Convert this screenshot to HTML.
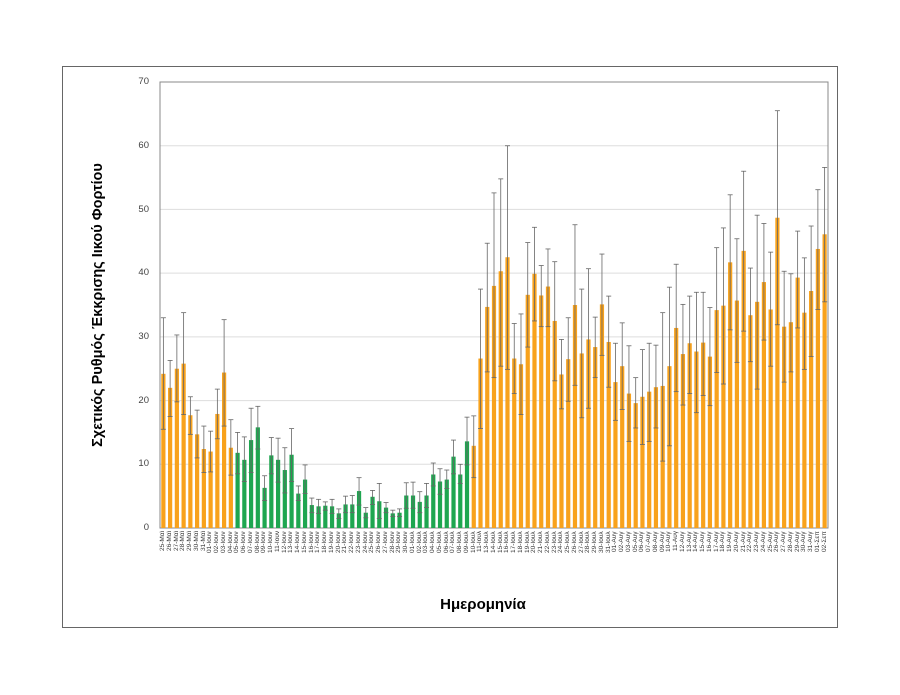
<!DOCTYPE html>
<html><head><meta charset="utf-8"><style>
body{margin:0;background:#fff;width:900px;height:695px;position:relative;overflow:hidden;font-family:"Liberation Sans","DejaVu Sans",sans-serif}
#frame{position:absolute;left:62px;top:66px;width:776px;height:562px;border:1px solid #666;box-sizing:border-box}
#labs{position:absolute;left:160px;top:531px;width:668px;height:46px;display:flex}
#labs span{flex:1;writing-mode:vertical-rl;transform:rotate(180deg);text-align:end;font-size:6.5px;line-height:6.75px;color:#333;white-space:nowrap;overflow:hidden}
.yl{position:absolute;font-size:9.5px;color:#444;width:30px;text-align:right;left:119px}
</style></head><body>
<div id="frame"></div>
<svg id="s" width="900" height="695" style="position:absolute;left:0;top:0">
<g stroke="#ddd" stroke-width="1">
<line x1="160" x2="828" y1="464.3" y2="464.3"/><line x1="160" x2="828" y1="400.6" y2="400.6"/><line x1="160" x2="828" y1="336.9" y2="336.9"/><line x1="160" x2="828" y1="273.1" y2="273.1"/><line x1="160" x2="828" y1="209.4" y2="209.4"/><line x1="160" x2="828" y1="145.7" y2="145.7"/>
</g>
<rect x="160" y="82" width="668" height="446" fill="none" stroke="#888" stroke-width="1"/>
<g id="bars"></g>
<text x="0" y="0" transform="translate(102,305) rotate(-90)" text-anchor="middle" font-size="14.5" font-weight="bold" fill="#000">Σχετικός Ρυθμός Έκκρισης Ιικού Φορτίου</text>
<text x="483" y="609" text-anchor="middle" font-size="15" font-weight="bold" fill="#000">Ημερομηνία</text>
</svg>
<div class="yl" style="top:522px">0</div><div class="yl" style="top:458px">10</div><div class="yl" style="top:395px">20</div><div class="yl" style="top:331px">30</div><div class="yl" style="top:267px">40</div><div class="yl" style="top:204px">50</div><div class="yl" style="top:140px">60</div><div class="yl" style="top:76px">70</div>
<div id="labs"><span>25-Μαϊ</span><span>26-Μαϊ</span><span>27-Μαϊ</span><span>28-Μαϊ</span><span>29-Μαϊ</span><span>30-Μαϊ</span><span>31-Μαϊ</span><span>01-Ιουν</span><span>02-Ιουν</span><span>03-Ιουν</span><span>04-Ιουν</span><span>05-Ιουν</span><span>06-Ιουν</span><span>07-Ιουν</span><span>08-Ιουν</span><span>09-Ιουν</span><span>10-Ιουν</span><span>11-Ιουν</span><span>12-Ιουν</span><span>13-Ιουν</span><span>14-Ιουν</span><span>15-Ιουν</span><span>16-Ιουν</span><span>17-Ιουν</span><span>18-Ιουν</span><span>19-Ιουν</span><span>20-Ιουν</span><span>21-Ιουν</span><span>22-Ιουν</span><span>23-Ιουν</span><span>24-Ιουν</span><span>25-Ιουν</span><span>26-Ιουν</span><span>27-Ιουν</span><span>28-Ιουν</span><span>29-Ιουν</span><span>30-Ιουν</span><span>01-Ιουλ</span><span>02-Ιουλ</span><span>03-Ιουλ</span><span>04-Ιουλ</span><span>05-Ιουλ</span><span>06-Ιουλ</span><span>07-Ιουλ</span><span>08-Ιουλ</span><span>09-Ιουλ</span><span>10-Ιουλ</span><span>11-Ιουλ</span><span>13-Ιουλ</span><span>14-Ιουλ</span><span>15-Ιουλ</span><span>16-Ιουλ</span><span>17-Ιουλ</span><span>18-Ιουλ</span><span>19-Ιουλ</span><span>20-Ιουλ</span><span>21-Ιουλ</span><span>22-Ιουλ</span><span>23-Ιουλ</span><span>24-Ιουλ</span><span>25-Ιουλ</span><span>26-Ιουλ</span><span>27-Ιουλ</span><span>28-Ιουλ</span><span>29-Ιουλ</span><span>30-Ιουλ</span><span>31-Ιουλ</span><span>01-Αυγ</span><span>02-Αυγ</span><span>03-Αυγ</span><span>05-Αυγ</span><span>06-Αυγ</span><span>07-Αυγ</span><span>08-Αυγ</span><span>09-Αυγ</span><span>10-Αυγ</span><span>11-Αυγ</span><span>12-Αυγ</span><span>13-Αυγ</span><span>14-Αυγ</span><span>15-Αυγ</span><span>16-Αυγ</span><span>17-Αυγ</span><span>18-Αυγ</span><span>19-Αυγ</span><span>20-Αυγ</span><span>21-Αυγ</span><span>22-Αυγ</span><span>23-Αυγ</span><span>24-Αυγ</span><span>25-Αυγ</span><span>26-Αυγ</span><span>27-Αυγ</span><span>28-Αυγ</span><span>29-Αυγ</span><span>30-Αυγ</span><span>31-Αυγ</span><span>01-Σεπ</span><span>02-Σεπ</span></div>
<script>
var d=[[24.2,15.5,33],[22,17.5,26.3],[25,19.8,30.3],[25.8,17.8,33.8],[17.7,14.7,20.6],[14.7,11,18.5],[12.4,8.7,16],[12,8.8,15.2],[17.9,14,21.8],[24.4,16,32.7],[12.6,8.3,17],
[11.8,8.5,15],[10.7,7.3,14.3],[13.8,8.7,18.8],[15.8,12.4,19.1],[6.3,4.3,8.2],[11.4,8.5,14.2],[10.7,7.2,14.1],[9.1,5.5,12.6],[11.5,7.3,15.6],[5.4,4.3,6.6],[7.6,5.4,9.9],[3.6,2.4,4.7],[3.4,2.3,4.5],[3.5,2.8,4.1],[3.4,2.3,4.5],[2.3,1.5,3],[3.7,2.4,5],[3.7,2.4,5.1],[5.8,3.6,7.9],[2.4,1.6,3.2],[4.9,3.7,5.9],[4.2,1.5,7],[3.2,2.4,4],[2.3,1.8,2.8],[2.4,1.8,3],[5.1,3.1,7.1],[5.1,3.1,7.2],[4.1,2.4,5.7],[5.1,3.2,7],[8.4,6.6,10.2],[7.3,5.3,9.3],[7.6,6.2,9.1],[11.2,8.5,13.8],[8.4,7,10],[13.6,9.9,17.4],
[12.9,7.9,17.6],[26.6,15.6,37.5],[34.7,24.5,44.7],[38,23.6,52.6],[40.3,25.4,54.8],[42.5,24.9,60],[26.6,21.1,32.1],[25.7,17.8,33.6],[36.6,28.4,44.8],[39.9,32.5,47.2],[36.5,31.6,41.2],[37.9,31.6,43.8],[32.5,23.1,41.8],[24.1,18.7,29.6],[26.5,19.9,33],[35,22.4,47.6],[27.4,17.3,37.5],[29.6,18.8,40.7],[28.4,23.6,33.1],[35.1,27.1,43],[29.2,22.1,36.4],[22.9,16.9,29],[25.4,18.6,32.2],[21.1,13.6,28.6],[19.6,15.7,23.6],[20.6,13.1,28],[21.4,13.6,29],[22.1,15.7,28.7],[22.3,10.5,33.8],[25.4,12.9,37.8],[31.4,21.4,41.4],[27.3,19.3,35.1],[29,21.1,36.4],[27.7,18.1,37],[29.1,20.8,37],[26.9,19.2,34.6],[34.2,24.4,44],[34.9,22.6,47.1],[41.7,31.1,52.3],[35.7,26,45.4],[43.5,30.9,56],[33.4,26.1,40.8],[35.5,21.8,49.1],[38.6,29.5,47.8],[34.3,25.4,43.3],[48.7,31.9,65.5],[31.6,22.9,40.3],[32.3,24.5,39.9],[39.3,31.4,46.6],[33.8,24.9,42.4],[37.2,26.9,47.4],[43.8,34.3,53.1],[46.1,35.5,56.6]];
var g=document.getElementById('bars'),h='',w=668/d.length;
function Y(v){return 528-v*6.371}
d.forEach(function(r,i){var c=160+w*(i+.5),col=(i>=11&&i<=45)?'#1ea650':'#f8a21c';
h+='<rect x="'+(c-2.1)+'" y="'+Y(r[0])+'" width="4.2" height="'+(r[0]*6.371)+'" fill="'+col+'"/>';
h+='<line x1="'+c+'" x2="'+c+'" y1="'+Y(r[1])+'" y2="'+Y(r[2])+'" stroke="#666" stroke-width="0.8"/>';
h+='<line x1="'+(c-2.5)+'" x2="'+(c+2.5)+'" y1="'+Y(r[1])+'" y2="'+Y(r[1])+'" stroke="#666" stroke-width="0.8"/>';
h+='<line x1="'+(c-2.5)+'" x2="'+(c+2.5)+'" y1="'+Y(r[2])+'" y2="'+Y(r[2])+'" stroke="#666" stroke-width="0.8"/>';});
g.innerHTML=h;
</script>
</body></html>
